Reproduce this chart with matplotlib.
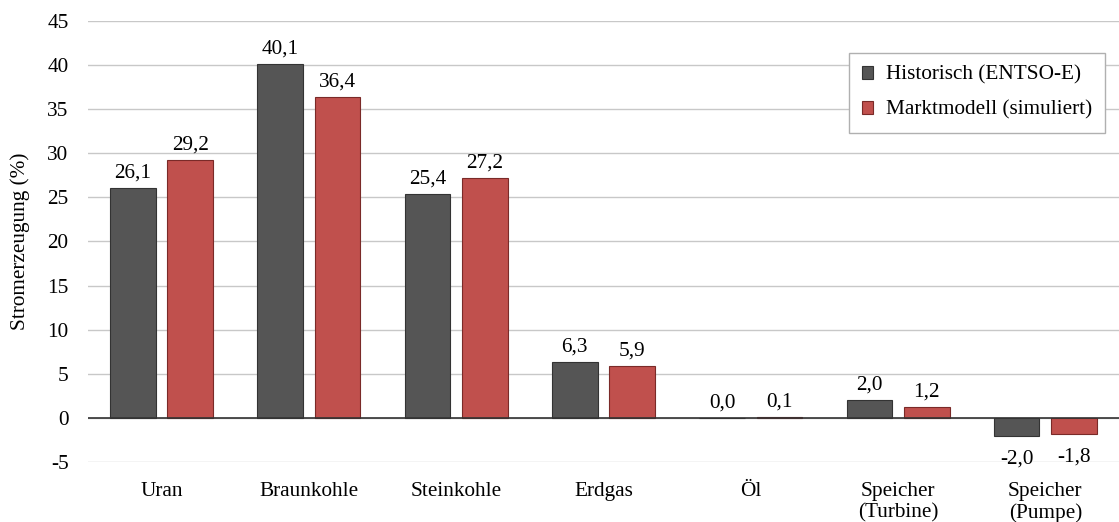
import matplotlib
matplotlib.use("Agg")
import matplotlib.pyplot as plt
import numpy as np

categories = ["Uran", "Braunkohle", "Steinkohle", "Erdgas", "Öl", "Speicher\n(Turbine)", "Speicher\n(Pumpe)"]
historisch = [26.1, 40.1, 25.4, 6.3, 0.0, 2.0, -2.0]
marktmodell = [29.2, 36.4, 27.2, 5.9, 0.1, 1.2, -1.8]
series_names = ["Historisch (ENTSO-E)", "Marktmodell (simuliert)"]
yticks = [-5, 0, 5, 10, 15, 20, 25, 30, 35, 40, 45]

plt.rcParams['font.family'] = ['Liberation Serif', 'DejaVu Serif']
FS = 15.3

fig = plt.figure(figsize=(11.19, 5.22), dpi=100)
ax = fig.add_axes([0.0786, 0.115, 0.9214, 0.845])

x = np.arange(len(categories))
w = 0.31
off = 0.195
c1, c2 = "#555555", "#c0504d"
b1 = ax.bar(x - off, historisch, w, color=c1, edgecolor="#333333", linewidth=0.8, label=series_names[0], zorder=3)
b2 = ax.bar(x + off, marktmodell, w, color=c2, edgecolor="#7a2a28", linewidth=0.8, label=series_names[1], zorder=3)

def fmt(v):
    return f"{v:.1f}".replace(".", ",")

for bars, vals in ((b1, historisch), (b2, marktmodell)):
    for b, v in zip(bars, vals):
        cx = b.get_x() + b.get_width() / 2
        if v < 0:
            ax.annotate(fmt(v), (cx, v), xytext=(0, -10), textcoords="offset points",
                        ha="center", va="top", fontsize=FS)
        else:
            ax.annotate(fmt(v), (cx, v), xytext=(0, 4), textcoords="offset points",
                        ha="center", va="bottom", fontsize=FS)

ax.set_xlim(-0.5, len(categories) - 0.5)
ax.set_ylim(-5, 45)
ax.set_yticks(yticks)
ax.set_yticklabels([str(t) for t in yticks], fontsize=FS)
ax.set_xticks(x)
ax.set_xticklabels(categories, fontsize=FS, linespacing=1.12)
ax.tick_params(axis="y", length=0, pad=14)
ax.tick_params(axis="x", length=0, pad=14.5)
for s in ax.spines.values():
    s.set_visible(False)
ax.grid(axis="y", color="#c8c8c8", linewidth=1.0, zorder=0)
ax.axhline(0, color="#333333", linewidth=1.2, zorder=4)
ax.set_ylabel("Stromerzeugung (%)", fontsize=FS, labelpad=12)

leg = ax.legend(loc="upper right", bbox_to_anchor=(0.9865, 0.928), fontsize=FS,
                frameon=True, fancybox=False, edgecolor="#b0b0b0", framealpha=1,
                handlelength=0.55, handleheight=0.55, handletextpad=0.6,
                labelspacing=0.75, borderpad=0.6, borderaxespad=0)
leg.get_frame().set_linewidth(1.0)

fig.savefig("out.png", dpi=100)
